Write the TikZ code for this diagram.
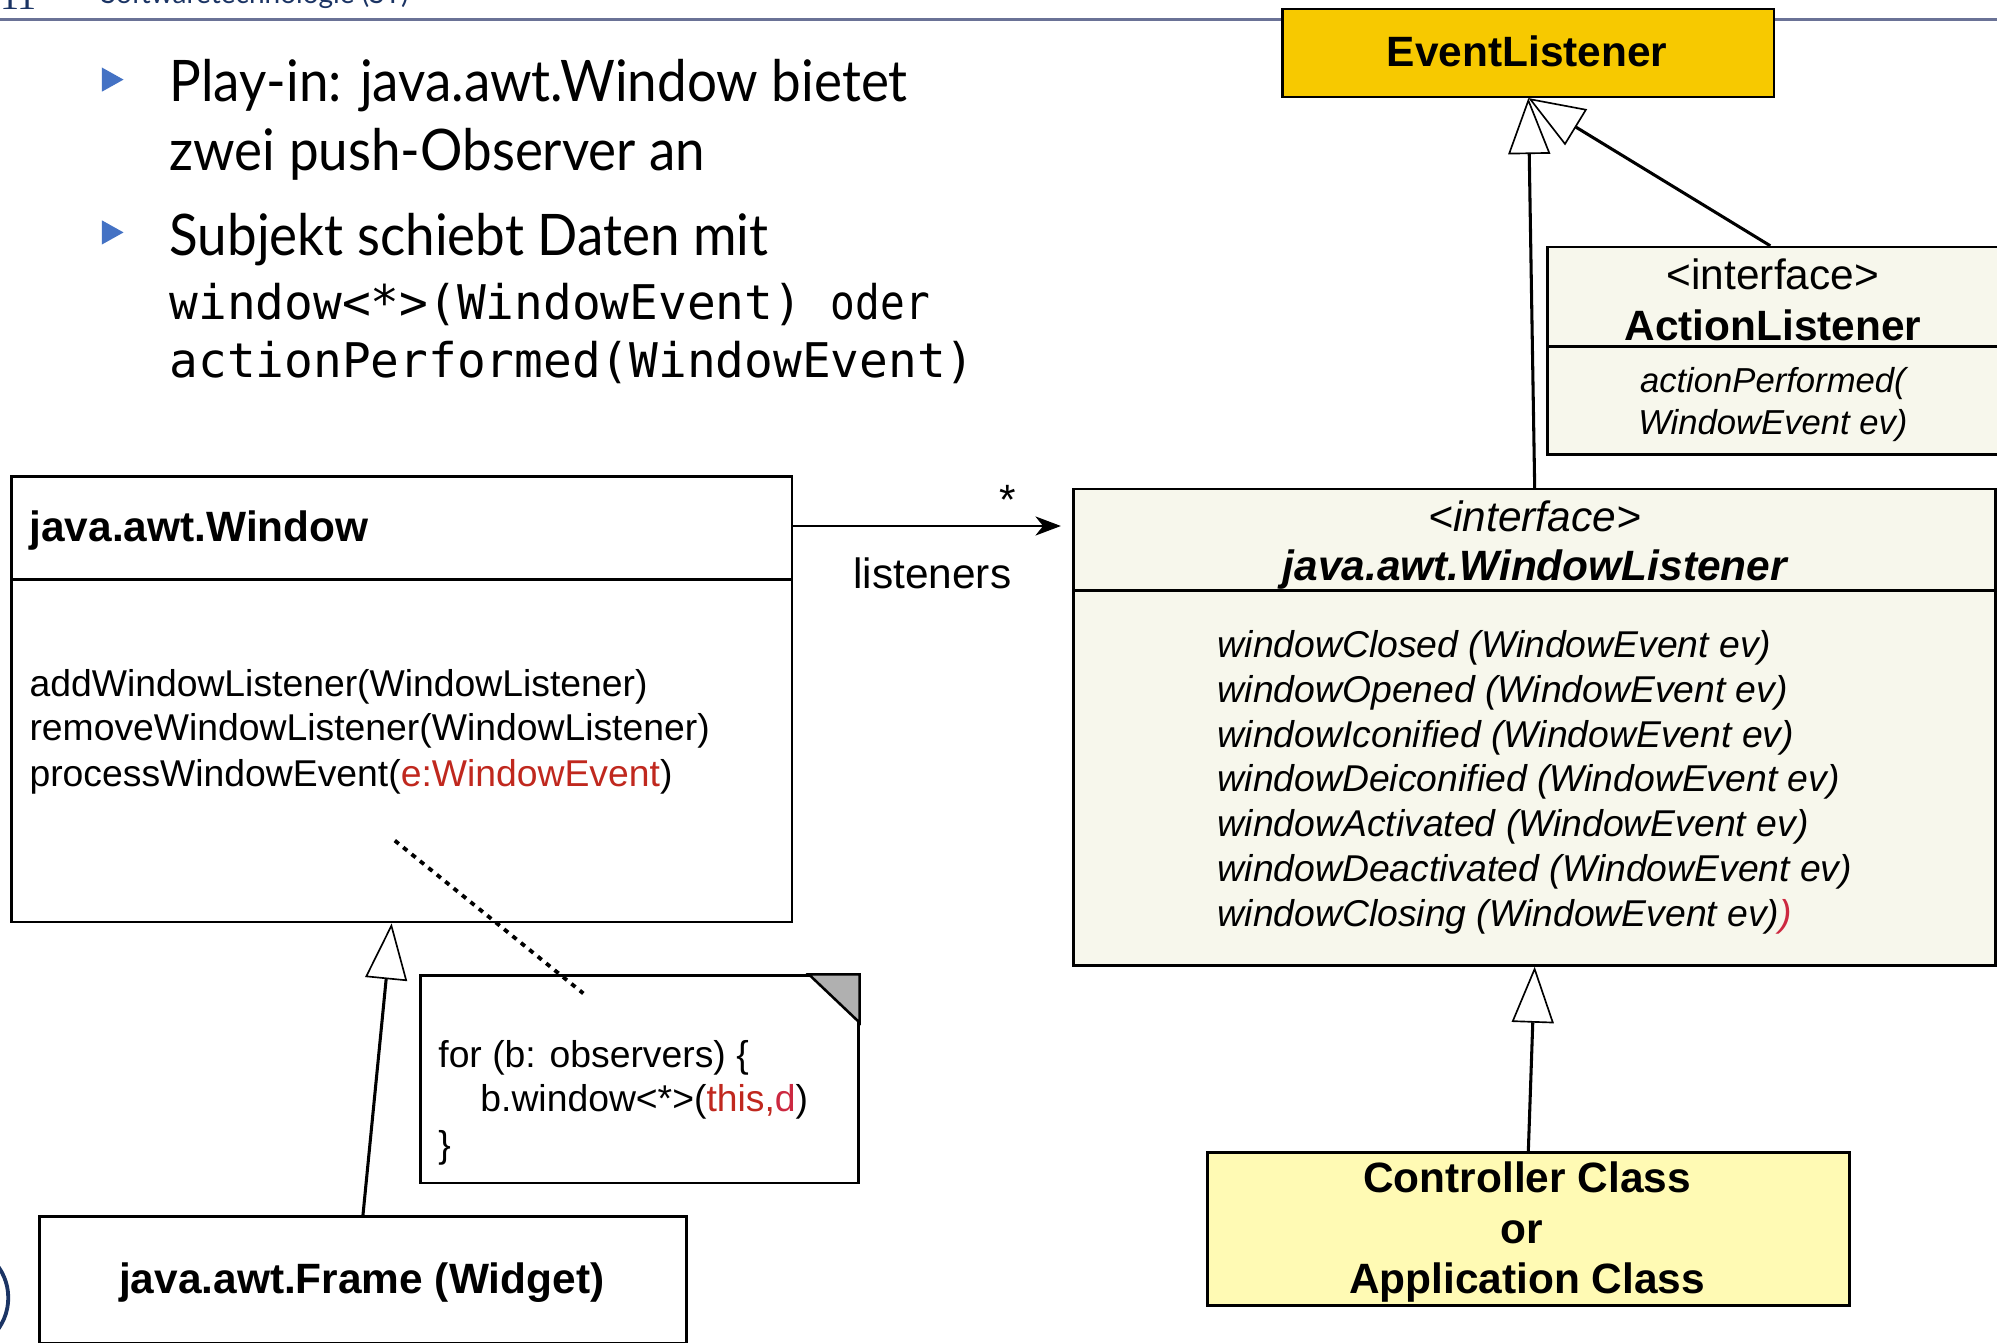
\documentclass[tikz,border=0pt]{standalone}
\usepackage{fontspec}
\setmainfont{Liberation Sans}
\newfontfamily\latofont{Lato}
\newfontfamily\codefont{DejaVu Sans Mono}
\newfontfamily\digitfont{Liberation Serif}
\usetikzlibrary{arrows.meta,calc}

\definecolor{elgold}{RGB}{247,201,0}
\definecolor{ifcream}{RGB}{247,247,236}
\definecolor{ctrlyellow}{RGB}{255,250,180}
\definecolor{codered}{RGB}{192,40,30}
\definecolor{crimson}{RGB}{204,40,64}
\definecolor{bulletblue}{RGB}{68,114,196}
\definecolor{rulegray}{RGB}{106,114,150}
\definecolor{navy}{RGB}{27,52,100}
\definecolor{foldgray}{RGB}{176,176,176}

\newcommand{\fsTitle}{\fontsize{33.3}{40}\selectfont}
\newcommand{\fsMeth}{\fontsize{29.3}{35}\selectfont}
\newcommand{\fsSmall}{\fontsize{27.2}{33}\selectfont}
\newcommand{\fsBullet}{\fontsize{45}{53}\selectfont}
\newcommand{\fsCode}{\fontsize{37.5}{46}\selectfont}
% slide body text: Lato, set a little narrower
\newcommand{\bodytext}[1]{\scalebox{0.924}[1]{\latofont\fsBullet #1}}

\begin{document}
\begin{tikzpicture}[x=1pt,y=-1pt,
  umlbox/.style={draw=black, line width=2pt, rectangle, inner sep=0pt, anchor=north west},
  lbl/.style={inner sep=0pt, anchor=base west},
  clbl/.style={inner sep=0pt, anchor=base},
  gen/.style={line width=2.4pt, -{Triangle[fill=white, length=44pt, width=33pt, line width=1.3pt]}},
  assoc/.style={line width=2pt, -{Stealth[length=20pt, width=15pt, inset=6pt]}},
  anchorline/.style={line width=3pt, dash pattern=on 4pt off 4.5pt},
  divider/.style={line width=2.4pt},
  bullettri/.style={fill=bulletblue, draw=none}
]
\useasboundingbox (0,0) rectangle (1568,1054);
\clip (0,0) rectangle (1568,1054);
\fill[white] (0,0) rectangle (1568,1054);

% slide header
\node[lbl, text=navy] (pagenum) at (0,7.5) {\digitfont\fontsize{30}{36}\selectfont 11};
\node[lbl, text=navy] (course) at (79,3) {\latofont\fontsize{22}{26}\selectfont Softwaretechnologie (ST)};
\draw[rulegray, line width=2.5pt] (0,15.3) -- (1568,15.3);
\draw[navy, line width=3pt] (-35.5,1019) circle[radius=42];

% bullet points
\fill[bullettri] (80,53) -- (97,62.5) -- (80,72) -- cycle;
\fill[bullettri] (80,173) -- (97,182.5) -- (80,192) -- cycle;
\node[lbl] (b1a) at (133,80) {\bodytext{Play-in: java.awt.Window bietet}};
\node[lbl] (b1b) at (133,134) {\bodytext{zwei push-Observer an}};
\node[lbl] (b2a) at (133,201) {\bodytext{Subjekt schiebt Daten mit}};
\node[lbl] (b2b) at (133,250.5) {\codefont\fsCode window<*>(WindowEvent) \scalebox{0.86}[1]{oder}};
\node[lbl] (b2c) at (133,296.5) {\codefont\fsCode actionPerformed(WindowEvent)};

% class boxes
\node[umlbox, fill=elgold, minimum width=386pt, minimum height=69pt] (el) at (1006,6) {};
\node[umlbox, fill=ifcream, minimum width=366pt, minimum height=163pt] (al) at (1214,193) {};
\node[umlbox, fill=ifcream, minimum width=724pt, minimum height=374pt] (wl) at (842,383) {};
\node[umlbox, fill=white, minimum width=613pt, minimum height=350pt] (win) at (8,373) {};
\node[umlbox, fill=white, minimum width=344pt, minimum height=163pt] (note) at (329,765) {};
\node[umlbox, fill=white, minimum width=508pt, minimum height=99.5pt] (frame) at (30,954) {};
\node[umlbox, fill=ctrlyellow, minimum width=504pt, minimum height=120pt] (ctrl) at (947,904) {};

% compartments and note fold
\draw[divider] ($(al.north west)+(0,79)$) -- ($(al.north east)+(0,79)$);
\draw[divider] ($(wl.north west)+(0,81)$) -- ($(wl.north east)+(0,81)$);
\draw[divider, line width=2.8pt] ($(win.north west)+(0,82)$) -- ($(win.north east)+(0,82)$);
\filldraw[fill=foldgray, draw=black, line width=2pt, line join=miter]
  ($(note.north east)+(-40,0)$) -- (note.north east) -- ($(note.north east)+(0,38)$) -- cycle;

% EventListener
\node[clbl] (eltitle) at (1199,52) {\fsTitle\bfseries EventListener};

% ActionListener
\node[clbl] (alstereo) at (1392,227) {\fsTitle <interface>};
\node[clbl] (altitle) at (1392,267) {\fsTitle\bfseries ActionListener};
\node[clbl] (alop1) at (1392,308) {\fsSmall\itshape actionPerformed(};
\node[clbl] (alop2) at (1392,341) {\fsSmall\itshape WindowEvent ev)};

% WindowListener
\node[clbl] (wlstereo) at (1205,417) {\fsTitle\itshape <interface>};
\node[clbl] (wltitle) at (1205,456) {\fsTitle\bfseries\itshape java.awt.WindowListener};
\node[lbl] (wlop1) at (956,516.5) {\fsMeth\itshape windowClosed (WindowEvent ev)};
\node[lbl] (wlop2) at (956,551.6) {\fsMeth\itshape windowOpened (WindowEvent ev)};
\node[lbl] (wlop3) at (956,586.7) {\fsMeth\itshape windowIconified (WindowEvent ev)};
\node[lbl] (wlop4) at (956,621.8) {\fsMeth\itshape windowDeiconified (WindowEvent ev)};
\node[lbl] (wlop5) at (956,656.9) {\fsMeth\itshape windowActivated (WindowEvent ev)};
\node[lbl] (wlop6) at (956,692.0) {\fsMeth\itshape windowDeactivated (WindowEvent ev)};
\node[lbl] (wlop7) at (956,727.1) {\fsMeth\itshape windowClosing (WindowEvent ev)\textcolor{crimson}{)}};

% java.awt.Window
\node[lbl] (wintitle) at (23,425) {\fsTitle\bfseries java.awt.Window};
\node[lbl] (winop1) at (23,546.5) {\fsMeth addWindowListener(WindowListener)};
\node[lbl] (winop2) at (23,581.5) {\fsMeth removeWindowListener(WindowListener)};
\node[lbl] (winop3) at (23,617.5) {\fsMeth processWindowEvent(\textcolor{codered}{e:WindowEvent})};

% note
\node[lbl] (note1) at (344,838.5) {\fsMeth for (b: observers) \{};
\node[lbl] (note2) at (377,872.5) {\fsMeth b.window<*>(\textcolor{codered}{this,}\textcolor{crimson}{d})};
\node[lbl] (note3) at (344,909) {\fsMeth \}};

% Frame and controller
\node[clbl] (frametitle) at (284,1016) {\fsTitle\bfseries java.awt.Frame (Widget)};
\node[clbl] (ctrl1) at (1199,936) {\fsTitle\bfseries Controller Class};
\node[clbl] (ctrl2) at (1195,976) {\fsTitle\bfseries or};
\node[clbl] (ctrl3) at (1199,1016) {\fsTitle\bfseries Application Class};

% association
\coordinate (assocstart) at ($(win.north east)+(0,40)$);
\coordinate (assocend) at ($(wl.north west)+(-9,30)$);
\draw[assoc] (assocstart) -- (assocend);
\node[clbl] (mult) at (791,404) {\fsTitle *};
\node[clbl] (role) at (732,462) {\fsTitle listeners};

% generalizations
\coordinate (framegoal) at ($(win.south)+(-8,0)$);
\draw[gen] (frame.north) -- (framegoal);
\draw[gen] (ctrl.north) -- (wl.south);
\draw[gen] (wl.north) -- (el.south);
\coordinate (alstart) at ($(al.north west)+(176,0)$);
\draw[gen] (alstart) -- (el.south);

% note anchor
\coordinate (anchorfrom) at ($(win.south west)+(302,-65)$);
\coordinate (anchorto) at ($(note.north west)+(129,15)$);
\draw[anchorline] (anchorfrom) -- (anchorto);
\end{tikzpicture}
\end{document}
